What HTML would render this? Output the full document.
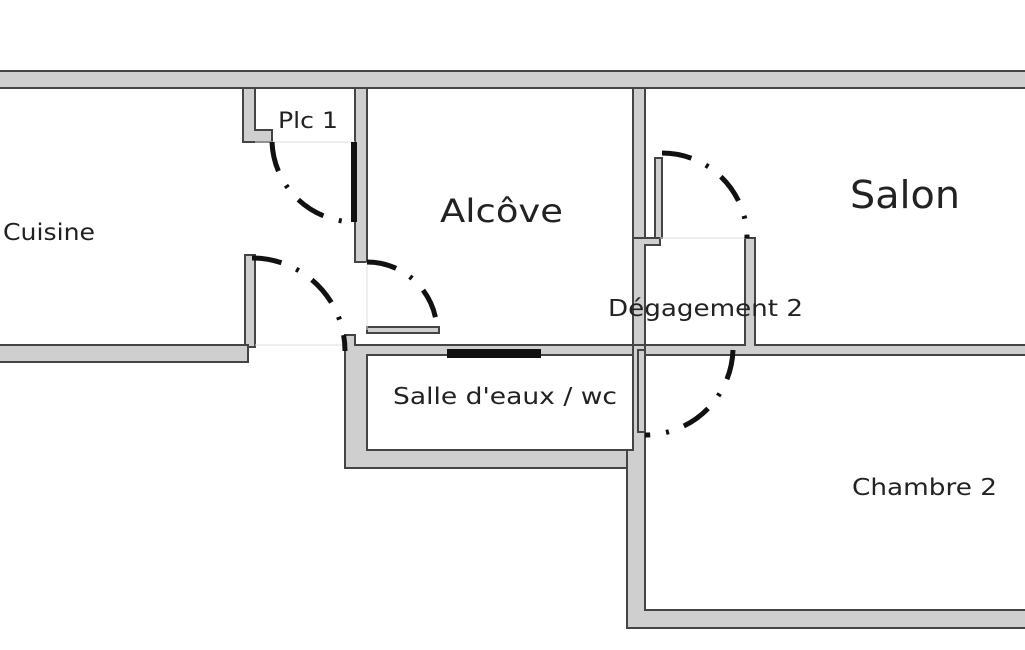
<!DOCTYPE html>
<html><head><meta charset="utf-8"><style>
html,body{margin:0;padding:0;background:#fff;width:1025px;height:650px;overflow:hidden}
text{font-family:"DejaVu Sans","Liberation Sans",sans-serif;fill:#222}
</style></head><body>
<svg width="1025" height="650" viewBox="0 0 1025 650" xmlns="http://www.w3.org/2000/svg">
<g fill="#cfcfcf" stroke="#444" stroke-width="2">
<rect x="-5" y="71" width="1040" height="17"/>
<path d="M243 88 V142 H272 V130 H255 V88 Z"/>
<rect x="355" y="88" width="12" height="174"/>
<rect x="367" y="327" width="72" height="6"/>
<rect x="245" y="255" width="10" height="92"/>
<rect x="-5" y="345" width="253" height="17"/>
<path d="M345 335 H355 V345 H633 V355 H367 V450 H633 V468 H345 Z"/>
<rect x="633" y="88" width="12" height="150"/>
<path d="M633 238 H660 V245 H645 V345 H633 Z"/>
<path d="M745 238 H755 V345 H1030 V355 H645 V345 H745 Z"/>
<path d="M633 345 H645 V610 H1030 V628 H627 V450 H633 Z"/>
<rect x="655" y="158" width="7" height="80"/>
<rect x="638" y="350" width="7" height="82"/>
</g>
<g stroke="#ddd" stroke-width="1">
<line x1="255" y1="142" x2="355" y2="142"/>
<line x1="255" y1="345" x2="345" y2="345"/>
<line x1="660" y1="238" x2="745" y2="238"/>
<line x1="367" y1="262" x2="367" y2="330"/>
</g>
<rect x="447" y="349" width="94" height="9" fill="#111"/>
<rect x="351" y="142" width="6" height="80" fill="#111"/>
<g fill="none" stroke="#111" stroke-width="5" stroke-dasharray="30 16 3 16">
<path d="M272 142 A83 83 0 0 0 355 222"/>
<path d="M252 258 A93 93 0 0 1 345 351"/>
<path d="M367 262 A70 70 0 0 1 437 332"/>
<path d="M662 153 A85 85 0 0 1 747 238"/>
<path d="M733 350 A88 88 0 0 1 645 435"/>
</g>
<text x="3" y="240" font-size="23" textLength="92" lengthAdjust="spacingAndGlyphs">Cuisine</text>
<text x="278" y="128" font-size="22" textLength="60" lengthAdjust="spacingAndGlyphs">Plc 1</text>
<text x="440" y="222" font-size="32" textLength="123" lengthAdjust="spacingAndGlyphs">Alcôve</text>
<text x="850" y="208" font-size="38" textLength="110" lengthAdjust="spacingAndGlyphs">Salon</text>
<text x="608" y="316" font-size="23" textLength="195" lengthAdjust="spacingAndGlyphs">Dégagement 2</text>
<text x="393" y="404" font-size="23" textLength="224" lengthAdjust="spacingAndGlyphs">Salle d'eaux / wc</text>
<text x="852" y="495" font-size="23" textLength="145" lengthAdjust="spacingAndGlyphs">Chambre 2</text>
</svg>
</body></html>
